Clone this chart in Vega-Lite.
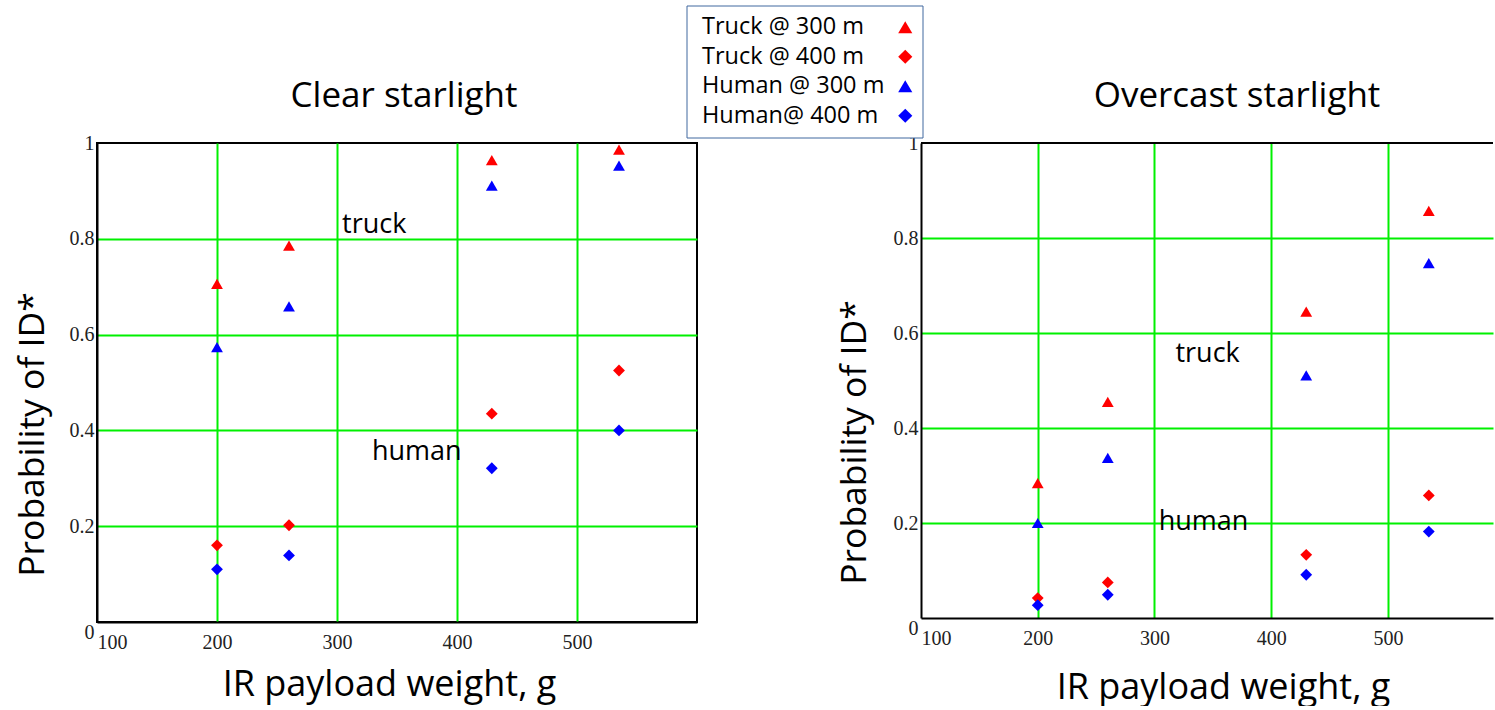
{
  "$schema": "https://vega.github.io/schema/vega-lite/v6.json",
  "background": "white",
  "padding": {"left": 14, "top": 5, "right": 0, "bottom": 0},
  "autosize": {"type": "pad"},
  "config": {
    "font": "Open Sans",
    "view": {"stroke": "black", "strokeWidth": 2},
    "axis": {
      "gridColor": "#00f000",
      "gridWidth": 2,
      "ticks": false,
      "domainColor": "black",
      "domainWidth": 2,
      "labelFont": "Liberation Serif",
      "labelFontSize": 20,
      "labelColor": "#222222",
      "titleFont": "Open Sans",
      "titleFontWeight": "normal",
      "titleColor": "black"
    },
    "legend": {
      "title": null,
      "orient": "none",
      "legendX": 589.5,
      "legendY": -137.5,
      "padding": 10,
      "strokeColor": "#41689f",
      "fillColor": "white",
      "labelFont": "Open Sans",
      "labelFontSize": 23.5,
      "labelColor": "black",
      "labelLimit": 400,
      "labelAlign": "left",
      "symbolSize": 200,
      "symbolOffset": 197,
      "labelOffset": -215,
      "rowPadding": 4.5
    }
  },
  "datasets": {
    "clear": [
      {"weight": 200, "prob": 0.706, "series": "Truck @ 300 m"},
      {"weight": 260, "prob": 0.786, "series": "Truck @ 300 m"},
      {"weight": 429, "prob": 0.964, "series": "Truck @ 300 m"},
      {"weight": 535, "prob": 0.986, "series": "Truck @ 300 m"},
      {"weight": 200, "prob": 0.574, "series": "Human @ 300 m"},
      {"weight": 260, "prob": 0.659, "series": "Human @ 300 m"},
      {"weight": 429, "prob": 0.911, "series": "Human @ 300 m"},
      {"weight": 535, "prob": 0.953, "series": "Human @ 300 m"},
      {"weight": 200, "prob": 0.160, "series": "Truck @ 400 m"},
      {"weight": 260, "prob": 0.202, "series": "Truck @ 400 m"},
      {"weight": 429, "prob": 0.435, "series": "Truck @ 400 m"},
      {"weight": 535, "prob": 0.525, "series": "Truck @ 400 m"},
      {"weight": 200, "prob": 0.110, "series": "Human@ 400 m"},
      {"weight": 260, "prob": 0.139, "series": "Human@ 400 m"},
      {"weight": 429, "prob": 0.321, "series": "Human@ 400 m"},
      {"weight": 535, "prob": 0.400, "series": "Human@ 400 m"}
    ],
    "overcast": [
      {"weight": 200, "prob": 0.284, "series": "Truck @ 300 m"},
      {"weight": 260, "prob": 0.455, "series": "Truck @ 300 m"},
      {"weight": 430, "prob": 0.645, "series": "Truck @ 300 m"},
      {"weight": 535, "prob": 0.857, "series": "Truck @ 300 m"},
      {"weight": 200, "prob": 0.200, "series": "Human @ 300 m"},
      {"weight": 260, "prob": 0.337, "series": "Human @ 300 m"},
      {"weight": 430, "prob": 0.511, "series": "Human @ 300 m"},
      {"weight": 535, "prob": 0.747, "series": "Human @ 300 m"},
      {"weight": 200, "prob": 0.042, "series": "Truck @ 400 m"},
      {"weight": 260, "prob": 0.075, "series": "Truck @ 400 m"},
      {"weight": 430, "prob": 0.133, "series": "Truck @ 400 m"},
      {"weight": 535, "prob": 0.258, "series": "Truck @ 400 m"},
      {"weight": 200, "prob": 0.027, "series": "Human@ 400 m"},
      {"weight": 260, "prob": 0.049, "series": "Human@ 400 m"},
      {"weight": 430, "prob": 0.091, "series": "Human@ 400 m"},
      {"weight": 535, "prob": 0.182, "series": "Human@ 400 m"}
    ],
    "clearNotes": [
      {"weight": 331, "prob": 0.812, "label": "truck"},
      {"weight": 366.5, "prob": 0.338, "label": "human"}
    ],
    "overcastNotes": [
      {"weight": 345.5, "prob": 0.538, "label": "truck"},
      {"weight": 342, "prob": 0.186, "label": "human"}
    ],
    "top": [{"edge": 1}]
  },
  "bounds": "flush",
  "spacing": 224,
  "hconcat": [
    {
      "width": 600,
      "height": 479,
      "title": {"text": "Clear starlight", "font": "Open Sans", "fontSize": 35, "fontWeight": "normal", "color": "black", "anchor": "middle", "frame": "group", "baseline": "alphabetic", "offset": 36, "dx": 7, "dy": 45},
      "layer": [
        {
          "data": {"name": "clear"},
          "mark": {"type": "point", "filled": true, "size": 140, "opacity": 1},
          "encoding": {
            "x": {
              "field": "weight", "type": "quantitative",
              "scale": {"domain": [100, 600], "nice": false, "zero": false},
              "axis": {
                "values": [100, 200, 300, 400, 500], "format": "d",
                "title": "IR payload weight, g", "titleFontSize": 36,
                "titleX": 292, "titleY": 73.5, "titleAlign": "center", "titleBaseline": "alphabetic",
                "labelPadding": 10,
                "gridOpacity": {"condition": {"test": "datum.value <= 100", "value": 0}, "value": 1}
              }
            },
            "y": {
              "field": "prob", "type": "quantitative",
              "scale": {"domain": [0, 1], "nice": false},
              "axis": {
                "values": [0, 0.2, 0.4, 0.6, 0.8, 1], "format": ".1~f",
                "title": "Probability of ID*", "titleFontSize": 35.5,
                "titleX": -54, "titleY": 291, "titleAngle": -90, "titleAlign": "center", "titleBaseline": "alphabetic",
                "labelPadding": 3,
                "labelBaseline": {"condition": {"test": "datum.value == 0", "value": "top"}, "value": "middle"},
                "gridOpacity": {"condition": {"test": "datum.value <= 0 || datum.value >= 1", "value": 0}, "value": 1}
              }
            },
            "color": {
              "field": "series", "type": "nominal",
              "scale": {"domain": ["Truck @ 300 m", "Truck @ 400 m", "Human @ 300 m", "Human@ 400 m"], "range": ["#ff0000", "#ff0000", "#0000ff", "#0000ff"]},
              "legend": {"encode": {"legend": {"update": {"strokeWidth": {"value": 2}}}}}
            },
            "shape": {
              "field": "series", "type": "nominal",
              "scale": {"domain": ["Truck @ 300 m", "Truck @ 400 m", "Human @ 300 m", "Human@ 400 m"], "range": ["triangle-up", "diamond", "triangle-up", "diamond"]},
              "legend": {"encode": {"legend": {"update": {"strokeWidth": {"value": 2}}}}}
            }
          }
        },
        {
          "data": {"name": "clearNotes"},
          "mark": {"type": "text", "font": "Open Sans", "fontSize": 27, "color": "black", "align": "center", "baseline": "alphabetic"},
          "encoding": {
            "x": {"field": "weight", "type": "quantitative"},
            "y": {"field": "prob", "type": "quantitative"},
            "text": {"field": "label"}
          }
        }
      ]
    },
    {
      "width": 572,
      "height": 475,
      "view": {"stroke": null},
      "title": {"text": "Overcast starlight", "font": "Open Sans", "fontSize": 35, "fontWeight": "normal", "color": "black", "anchor": "middle", "frame": "group", "baseline": "alphabetic", "offset": 36, "dx": 30, "dy": 45},
      "layer": [
        {
          "data": {"name": "overcast"},
          "mark": {"type": "point", "filled": true, "size": 140, "opacity": 1},
          "encoding": {
            "x": {
              "field": "weight", "type": "quantitative",
              "scale": {"domain": [100, 590], "nice": false, "zero": false},
              "axis": {
                "values": [100, 200, 300, 400, 500], "format": "d",
                "title": "IR payload weight, g", "titleFontSize": 36,
                "titleX": 302, "titleY": 80.5, "titleAlign": "center", "titleBaseline": "alphabetic",
                "labelPadding": 10,
                "gridOpacity": {"condition": {"test": "datum.value <= 100", "value": 0}, "value": 1}
              }
            },
            "y": {
              "field": "prob", "type": "quantitative",
              "scale": {"domain": [0, 1], "nice": false},
              "axis": {
                "values": [0, 0.2, 0.4, 0.6, 0.8, 1], "format": ".1~f",
                "title": "Probability of ID*", "titleFontSize": 35.5,
                "titleX": -56, "titleY": 299, "titleAngle": -90, "titleAlign": "center", "titleBaseline": "alphabetic",
                "labelPadding": 3,
                "labelBaseline": {"condition": {"test": "datum.value == 0", "value": "top"}, "value": "middle"},
                "gridOpacity": {"condition": {"test": "datum.value <= 0 || datum.value >= 1", "value": 0}, "value": 1}
              }
            },
            "color": {
              "field": "series", "type": "nominal",
              "scale": {"domain": ["Truck @ 300 m", "Truck @ 400 m", "Human @ 300 m", "Human@ 400 m"], "range": ["#ff0000", "#ff0000", "#0000ff", "#0000ff"]}
            },
            "shape": {
              "field": "series", "type": "nominal",
              "scale": {"domain": ["Truck @ 300 m", "Truck @ 400 m", "Human @ 300 m", "Human@ 400 m"], "range": ["triangle-up", "diamond", "triangle-up", "diamond"]}
            }
          }
        },
        {
          "data": {"name": "overcastNotes"},
          "mark": {"type": "text", "font": "Open Sans", "fontSize": 27, "color": "black", "align": "center", "baseline": "alphabetic"},
          "encoding": {
            "x": {"field": "weight", "type": "quantitative"},
            "y": {"field": "prob", "type": "quantitative"},
            "text": {"field": "label"}
          }
        },
        {
          "data": {"name": "top"},
          "mark": {"type": "rule", "color": "black", "strokeWidth": 2},
          "encoding": {
            "y": {"field": "edge", "type": "quantitative"}
          }
        }
      ]
    }
  ]
}
